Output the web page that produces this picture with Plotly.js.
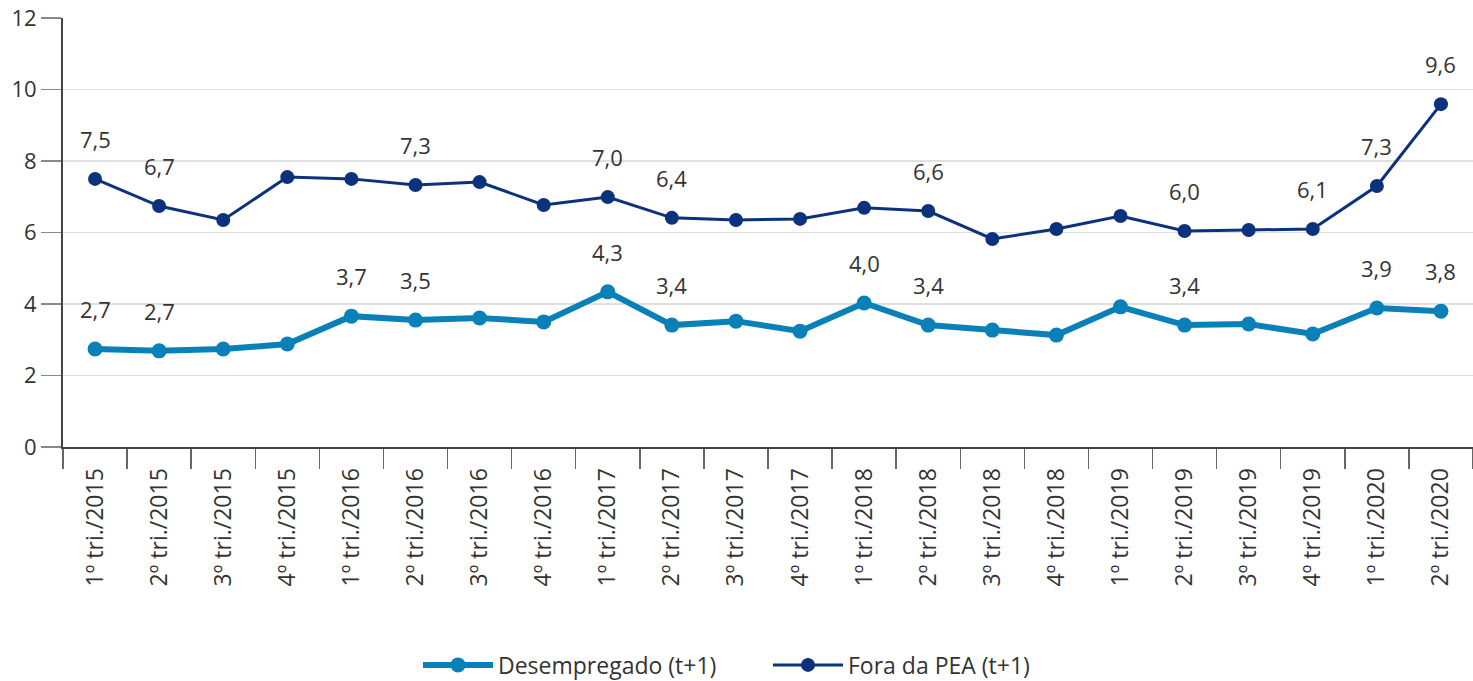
<!DOCTYPE html>
<html><head><meta charset="utf-8">
<script src="https://cdn.plot.ly/plotly-3.0.1.min.js"></script>
<style>html,body{margin:0;padding:0;background:#fff}#c{width:1473px;height:681px}</style>
</head><body><div id="c"></div>
<script>
const categories = ["1º tri./2015","2º tri./2015","3º tri./2015","4º tri./2015","1º tri./2016","2º tri./2016","3º tri./2016","4º tri./2016","1º tri./2017","2º tri./2017","3º tri./2017","4º tri./2017","1º tri./2018","2º tri./2018","3º tri./2018","4º tri./2018","1º tri./2019","2º tri./2019","3º tri./2019","4º tri./2019","1º tri./2020","2º tri./2020"];
const desempregado = [2.74,2.69,2.74,2.88,3.66,3.55,3.61,3.50,4.34,3.41,3.52,3.24,4.03,3.41,3.27,3.13,3.92,3.41,3.44,3.16,3.89,3.80];
const foraPEA = [7.50,6.74,6.35,7.55,7.50,7.33,7.41,6.77,6.99,6.41,6.35,6.38,6.69,6.60,5.82,6.10,6.46,6.04,6.07,6.10,7.30,9.59];
const desempregadoLabels = ["2,7","2,7","","","3,7","3,5","","","4,3","3,4","","","4,0","3,4","","","","3,4","","","3,9","3,8"];
const foraPEALabels = ["7,5","6,7","","","","7,3","","","7,0","6,4","","","","6,6","","","","6,0","","6,1","7,3","9,6"];

const light = "#0a80b8", dark = "#0c327d";
const traces = [
  {x: categories, y: desempregado, name: "Desempregado (t+1)", type: "scatter", mode: "lines+markers",
   line: {color: light, width: 6}, marker: {color: light, size: 15}},
  {x: categories, y: foraPEA, name: "Fora da PEA (t+1)", type: "scatter", mode: "lines+markers",
   line: {color: dark, width: 3}, marker: {color: dark, size: 14}}
];
const annotations = [];
function addLabels(vals, labels) {
  labels.forEach((t, i) => {
    if (t) annotations.push({x: categories[i], y: vals[i], text: t, showarrow: false,
      yanchor: "bottom", yshift: 23, font: {family: "Open Sans, sans-serif", size: 22, color: "#333"}});
  });
}
addLabels(desempregado, desempregadoLabels);
addLabels(foraPEA, foraPEALabels);

const layout = {
  width: 1473, height: 681,
  margin: {l: 63, r: 0, t: 18, b: 234, autoexpand: false},
  paper_bgcolor: "#fff", plot_bgcolor: "#fff",
  font: {family: "Open Sans, sans-serif", color: "#333"},
  showlegend: true,
  legend: {orientation: "h", x: 0.5, xanchor: "center", y: -0.508, yanchor: "middle",
    font: {size: 23, color: "#333"}, itemwidth: 70, traceorder: "normal", entrywidth: 265},
  xaxis: {type: "category", range: [-0.5, 21.5], tickson: "boundaries", ticks: "outside", ticklen: 20,
    tickcolor: "#666", tickwidth: 1.5, tickangle: -90, showline: true, linecolor: "#444", linewidth: 2,
    showgrid: false, tickfont: {size: 23, color: "#333"}, ticklabelstandoff: 10, fixedrange: true, automargin: false},
  yaxis: {range: [0, 12], dtick: 2, ticks: "outside", ticklen: 20, tickcolor: "#888", tickwidth: 1.5,
    showline: true, linecolor: "#444", linewidth: 2, showgrid: true, gridcolor: "#e0e0e0", gridwidth: 1.5,
    zeroline: false, tickfont: {size: 22, color: "#333"}, fixedrange: true, automargin: false},
  annotations: annotations
};
Plotly.newPlot("c", traces, layout, {displayModeBar: false, staticPlot: true});
</script></body></html>
